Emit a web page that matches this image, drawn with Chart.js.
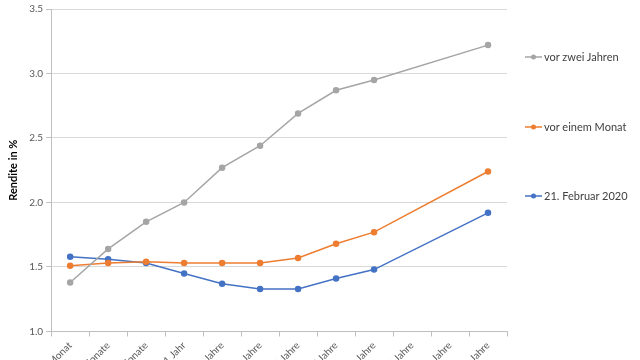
<!DOCTYPE html>
<html>
<head>
<meta charset="utf-8">
<script src="https://cdn.jsdelivr.net/npm/chart.js@4"></script>
<style>
  html, body { margin: 0; padding: 0; overflow: hidden; background: #fff; }
  #wrap { width: 640px; height: 381px; position: relative; }
  #legend { position: absolute; left: 525px; top: 0; font-family: Lato, 'Open Sans', sans-serif; font-size: 11px; color: #404040; }
  #legend div { position: absolute; white-space: nowrap; line-height: 14px; }
  #legend canvas { vertical-align: middle; margin-right: 2px; position: relative; top: -1px; }
</style>
</head>
<body>
<div id="wrap"><canvas id="myChart"></canvas><div id="legend"></div></div>
<script>
// Laufzeiten
var labels = ["1 Monat", "3 Monate", "6 Monate", "1 Jahr", "2 Jahre", "3 Jahre", "5 Jahre", "7 Jahre", "10 Jahre", "15 Jahre", "20 Jahre", "30 Jahre"]
// Renditen in %
var vorZweiJahren = [1.38, 1.64, 1.85, 2.00, 2.27, 2.44, 2.69, 2.87, 2.95, null, null, 3.22]
var vorEinemMonat = [1.51, 1.53, 1.54, 1.53, 1.53, 1.53, 1.57, 1.68, 1.77, null, null, 2.24]
var feb2020 = [1.58, 1.56, 1.53, 1.45, 1.37, 1.33, 1.33, 1.41, 1.48, null, null, 1.92]
var yTicks = [1.0, 1.5, 2.0, 2.5, 3.0, 3.5]
var legendTops = [50, 120, 189]

function legendIcon(color) {
    var c = document.createElement('canvas')
    c.width = 17
    c.height = 8
    var ctx = c.getContext('2d')
    ctx.strokeStyle = color
    ctx.lineWidth = 1.5
    ctx.beginPath()
    ctx.moveTo(0, 4)
    ctx.lineTo(17, 4)
    ctx.stroke()
    ctx.fillStyle = color
    ctx.beginPath()
    ctx.arc(8.5, 4, 2.5, 0, Math.PI * 2)
    ctx.fill()
    return c
}

Chart.defaults.font.family = "Lato, 'Open Sans', sans-serif"

var ds = function (label, data, color) {
    return {
        label: label,
        data: data,
        borderColor: color,
        backgroundColor: color,
        borderWidth: 1.5,
        pointRadius: 2.5,
        pointHoverRadius: 3,
        spanGaps: true,
        tension: 0
    }
}

var myChart = document.getElementById("myChart").getContext('2d')
var chart = new Chart(myChart, {
    type: 'line',
    data: {
        labels: labels,
        datasets: [
            ds("vor zwei Jahren", vorZweiJahren, "#a5a5a5"),
            ds("vor einem Monat", vorEinemMonat, "#ed7d31"),
            ds("21. Februar 2020", feb2020, "#4472c4")
        ]
    },
    options: {
        responsive: true,
        maintainAspectRatio: false,
        animation: false,
        layout: { padding: { top: 4, left: 7, right: 133, bottom: 0 } },
        plugins: {
            tooltip: { enabled: false },
            legend: { display: false }
        },
        scales: {
            x: {
                offset: true,
                grid: {
                    display: true,
                    drawOnChartArea: false,
                    drawTicks: true,
                    tickLength: 5,
                    offset: true,
                    color: '#bfbfbf'
                },
                border: { color: '#bfbfbf' },
                ticks: {
                    color: '#595959',
                    font: { size: 10 },
                    maxRotation: 45,
                    minRotation: 45,
                    autoSkip: false
                }
            },
            y: {
                min: 1.0,
                max: 3.5,
                afterBuildTicks: function (axis) {
                    axis.ticks = yTicks.map(function (v) { return { value: v } })
                },
                grid: {
                    color: '#d9d9d9',
                    tickLength: 5,
                    tickColor: '#bfbfbf'
                },
                border: { color: '#bfbfbf' },
                ticks: {
                    color: '#595959',
                    font: { size: 10 },
                    padding: 3,
                    callback: function (v) { return v.toFixed(1) }
                },
                title: {
                    display: true,
                    text: 'Rendite in %',
                    color: '#000',
                    padding: { top: 0, bottom: 6 },
                    font: { size: 11, weight: 'bold' }
                }
            }
        }
    }
})

// Legende rechts
var leg = document.getElementById('legend')
chart.data.datasets.forEach(function (d, i) {
    var item = document.createElement('div')
    item.style.top = legendTops[i] + 'px'
    item.appendChild(legendIcon(d.borderColor))
    item.appendChild(document.createTextNode(d.label))
    leg.appendChild(item)
})
</script>
</body>
</html>
